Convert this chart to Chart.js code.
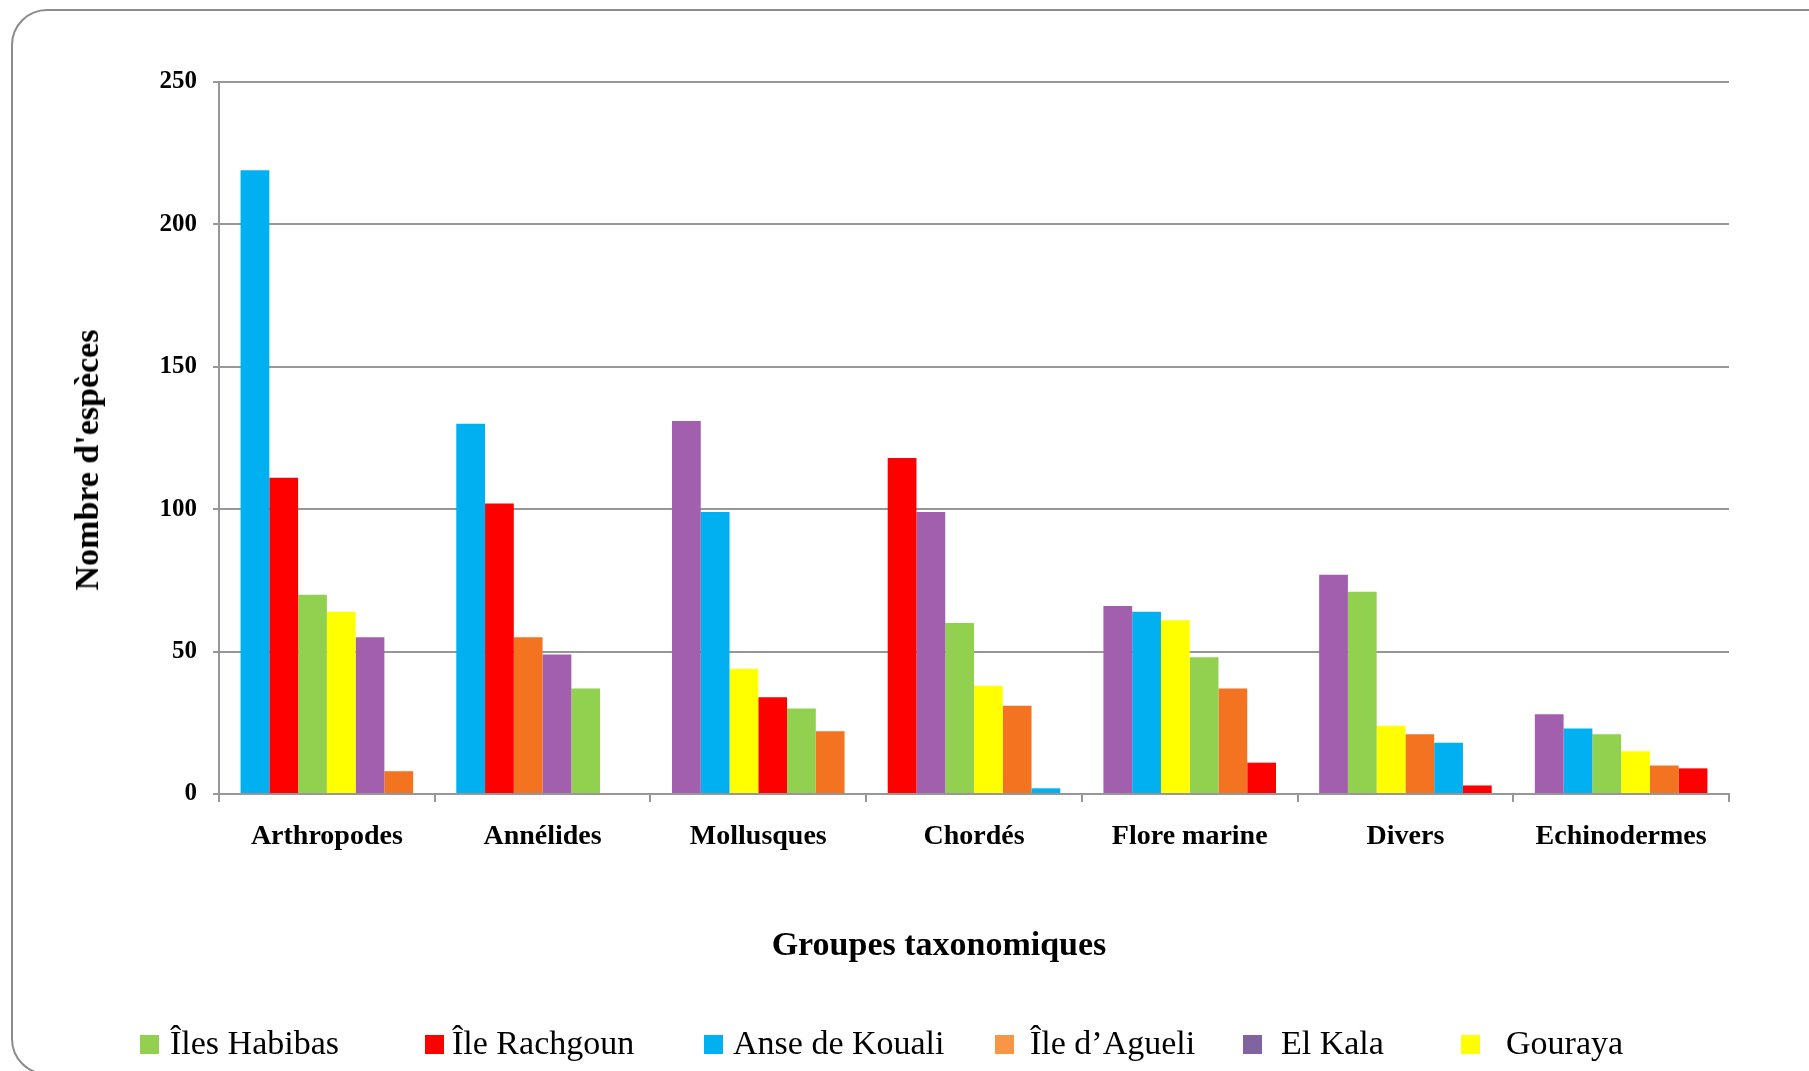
<!DOCTYPE html>
<html lang="fr">
<head>
<meta charset="utf-8">
<title>Nombre d'espèces par groupe taxonomique</title>
<script src="https://cdn.jsdelivr.net/npm/chart.js@4.4.1/dist/chart.umd.min.js"></script>
<style>
  html, body { margin: 0; padding: 0; background: #fff; overflow: hidden; }
  #page { position: relative; width: 1809px; height: 1071px; font-family: "Liberation Serif", "Times New Roman", serif; color: #000; }
  #frame { position: absolute; left: 11px; top: 9px; width: 1900px; height: 1062px; border: 2.5px solid #8c8c8c; border-radius: 36px; }
  #chart { position: absolute; left: 0; top: 0; }
  .axis-title { position: absolute; font-weight: bold; font-size: 34px; line-height: 34px; white-space: nowrap; }
  #ytitle { left: 87px; top: 460px; transform: translate(-50%, -50%) rotate(-90deg); }
  #xtitle { left: 939px; top: 944px; transform: translate(-50%, -50%); }
  .sw { position: absolute; width: 19px; height: 19px; top: 1035px; }
  .lb { position: absolute; font-size: 34px; line-height: 34px; top: 1026px; white-space: nowrap; }
</style>
</head>
<body>
<div id="page">
  <div id="frame"></div>
  <canvas id="chart" width="1809" height="1071"></canvas>
  <div class="axis-title" id="ytitle">Nombre d'espèces</div>
  <div class="axis-title" id="xtitle">Groupes taxonomiques</div>
  <div id="legend"></div>
</div>
<script>
// groupes taxonomiques
const categories = ['Arthropodes', 'Annélides', 'Mollusques', 'Chordés', 'Flore marine', 'Divers', 'Echinodermes'];

// nombre d'espèces par site (même ordre que categories)
const ilesHabibas  = [70, 37, 30, 60, 48, 71, 21];
const ileRachgoun  = [111, 102, 34, 118, 11, 3, 9];
const anseKouali   = [219, 130, 99, 2, 64, 18, 23];
const ileAgueli    = [8, 55, 22, 31, 37, 21, 10];
const elKala       = [55, 49, 131, 99, 66, 77, 28];
const gouraya      = [64, 0, 44, 38, 61, 24, 15];

const siteNames = ['Îles Habibas', 'Île Rachgoun', 'Anse de Kouali', 'Île d’Agueli', 'El Kala', 'Gouraya'];
const siteValues = [ilesHabibas, ileRachgoun, anseKouali, ileAgueli, elKala, gouraya];
const barColors = ['#92d050', '#ff0000', '#00b0f0', '#f47321', '#a25fad', '#ffff00'];
const legendColors = ['#92d050', '#ff0000', '#00b0f0', '#f79646', '#8064a2', '#ffff00'];

const yTicks = [0, 50, 100, 150, 200, 250];

// in each group the bars are ordered from largest to smallest,
// so build one dataset per rank and colour each bar by its site
const ranked = categories.map((c, i) =>
  siteValues.map((vals, s) => ({ site: s, v: vals[i] }))
            .sort((a, b) => b.v - a.v)
);
const datasets = siteNames.map((_, r) => ({
  label: 'rang ' + (r + 1),
  data: ranked.map(g => g[r].v),
  backgroundColor: ranked.map(g => barColors[g[r].site]),
  borderWidth: 0,
  categoryPercentage: 0.8,
  barPercentage: 1.0
}));

const gray = '#979797';
const tickFont = { family: 'Liberation Serif', weight: 'bold', size: 25 };

new Chart(document.getElementById('chart'), {
  type: 'bar',
  data: { labels: categories, datasets: datasets },
  options: {
    responsive: false,
    animation: false,
    devicePixelRatio: 1,
    layout: { padding: { top: 82, right: 80, bottom: 0, left: 0 } },
    plugins: { legend: { display: false }, tooltip: { enabled: false } },
    scales: {
      x: {
        grid: { drawOnChartArea: false, color: gray, lineWidth: 2, tickLength: 8, offset: true },
        border: { color: gray, width: 2 },
        ticks: { color: '#000', padding: 18, font: { family: 'Liberation Serif', weight: 'bold', size: 28 }, maxRotation: 0 },
        afterFit: s => { s.height = 277; }
      },
      y: {
        min: 0,
        max: 250,
        afterBuildTicks: s => { s.ticks = yTicks.map(v => ({ value: v })); },
        grid: { color: gray, lineWidth: 2, tickLength: 6 },
        border: { color: gray, width: 2 },
        ticks: { color: '#000', padding: 16, font: tickFont },
        afterFit: s => { s.width = 219; }
      }
    }
  }
});

// légende
const swatchX = [140, 425, 704, 995, 1243, 1461];
const labelX = [170, 452, 733, 1030, 1281, 1506];
const legend = document.getElementById('legend');
siteNames.forEach((name, i) => {
  const sw = document.createElement('div');
  sw.className = 'sw';
  sw.style.left = swatchX[i] + 'px';
  sw.style.background = legendColors[i];
  legend.appendChild(sw);
  const lb = document.createElement('div');
  lb.className = 'lb';
  lb.style.left = labelX[i] + 'px';
  lb.textContent = name;
  legend.appendChild(lb);
});
</script>
</body>
</html>
